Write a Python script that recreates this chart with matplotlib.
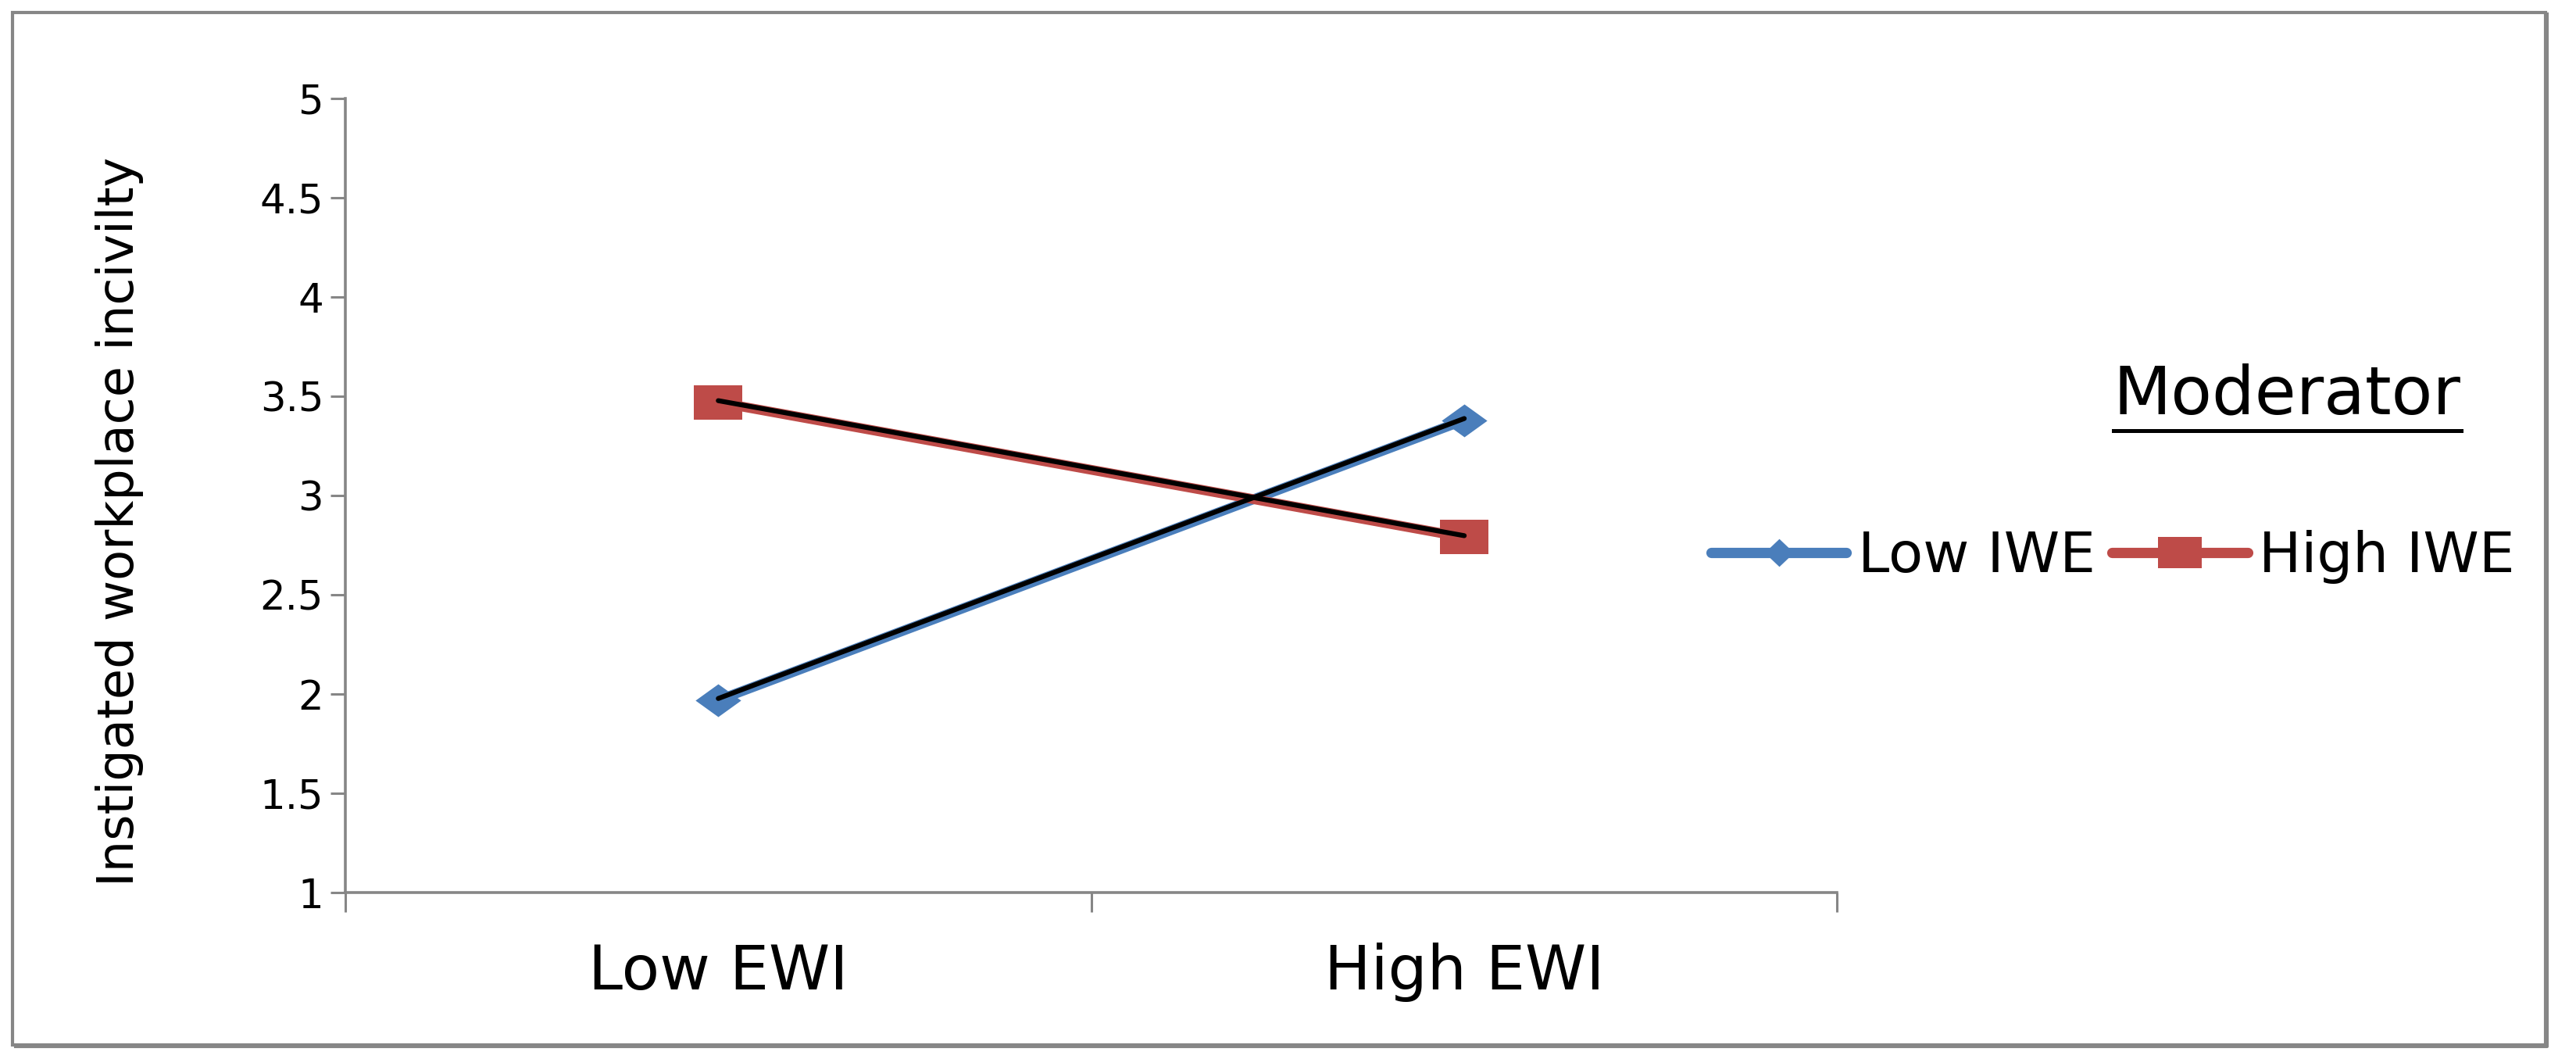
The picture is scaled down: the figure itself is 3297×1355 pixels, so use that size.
import matplotlib
matplotlib.use("Agg")
import matplotlib.pyplot as plt
import matplotlib.transforms as mtransforms
from matplotlib.patches import Rectangle
from matplotlib.lines import Line2D

# data
categories = ["Low EWI", "High EWI"]
low_iwe = [1.97, 3.38]
high_iwe = [3.47, 2.79]
series_names = ["Low IWE", "High IWE"]
y_ticks = [1, 1.5, 2, 2.5, 3, 3.5, 4, 4.5, 5]
y_tick_labels = ["1", "1.5", "2", "2.5", "3", "3.5", "4", "4.5", "5"]

blue = "#4A7EBB"
red = "#BE4B48"
grey = "#868686"

plt.rcParams['font.family'] = ['DejaVu Sans']

fig = plt.figure(figsize=(32.98, 13.55), dpi=100)
ax = fig.add_axes([0.134, 0.157, 0.579, 0.750])

# flattened markers (chart looks horizontally stretched)
diamond = [(-1, 0), (0, 0.72), (1, 0), (0, -0.72), (-1, 0)]
square = [(-1, -0.71), (1, -0.71), (1, 0.71), (-1, 0.71), (-1, -0.71)]

xpos = [0.5, 1.5]
ax.plot(xpos, low_iwe, color=blue, lw=9, marker=diamond, markersize=42,
        markeredgewidth=0, zorder=2, solid_capstyle="round")
ax.plot(xpos, high_iwe, color=red, lw=9, marker=square, markersize=45,
        markeredgewidth=0, zorder=2, solid_capstyle="round")

# thin black line drawn a touch above the coloured one
up = ax.transData + mtransforms.ScaledTranslation(0, 1.5 / 72, fig.dpi_scale_trans)
ax.plot(xpos, low_iwe, color="black", lw=4.5, zorder=3, solid_capstyle="round", transform=up)
ax.plot(xpos, high_iwe, color="black", lw=4.5, zorder=3, solid_capstyle="round", transform=up)

ax.set_xlim(0, 2)
ax.set_ylim(1, 5)
ax.set_yticks(y_ticks)
ax.set_yticklabels(y_tick_labels)
ax.set_xticks([0, 1, 2])
ax.set_xticklabels([])
ax.set_xticks(xpos, minor=True)
ax.set_xticklabels(categories, minor=True)

ax.tick_params(axis='x', which='major', length=18, width=2.2, color=grey, direction='out')
ax.tick_params(axis='x', which='minor', length=0, labelsize=57, pad=46)
ax.tick_params(axis='y', length=14, width=2.2, color=grey, labelsize=37, pad=6)

for s in ["top", "right"]:
    ax.spines[s].set_visible(False)
for s in ["left", "bottom"]:
    ax.spines[s].set_color(grey)
    ax.spines[s].set_linewidth(2.6)

ax.set_ylabel("Instigated workplace incivilty", fontsize=46)
ax.yaxis.set_label_coords(-0.135, 0.467)

# legend
h1 = Line2D([], [], color=blue, lw=9.5, marker=[(-1, 0), (0, 0.95), (1, 0), (0, -0.95), (-1, 0)],
            markersize=27, markeredgewidth=0, solid_capstyle="round")
h2 = Line2D([], [], color=red, lw=9.5, marker=square, markersize=41,
            markeredgewidth=0, solid_capstyle="round")
fig.legend([h1, h2], series_names, loc="center", bbox_to_anchor=(0.82, 0.474),
           ncol=2, frameon=False, fontsize=52, handlelength=2.4,
           handletextpad=0.2, columnspacing=0.3)

# Moderator title, underlined
t = fig.text(0.8876, 0.609, "Moderator", fontsize=62, ha="center", va="baseline")
fig.canvas.draw()
bb = t.get_window_extent().transformed(fig.transFigure.inverted())
fig.add_artist(Line2D([bb.x0, bb.x1], [0.609 - 0.0155, 0.609 - 0.0155],
                      transform=fig.transFigure, color="black", lw=3.6))

# border around the whole chart, with a heavier right/bottom edge
fig.patches.append(Rectangle((0.005, 0.013), 0.983, 0.975, transform=fig.transFigure,
                             fill=False, edgecolor=grey, lw=3))
fig.add_artist(Line2D([0.006, 0.9885, 0.9885], [0.0115, 0.0115, 0.987],
                      transform=fig.transFigure, color=grey, lw=3))

fig.savefig("out.png", dpi=100)
